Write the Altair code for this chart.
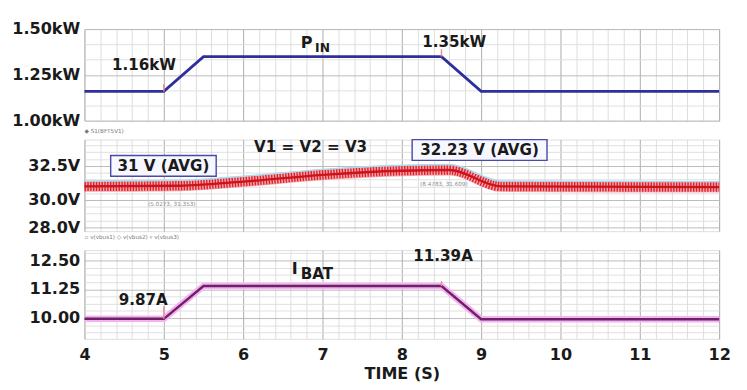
import altair as alt
import pandas as pd

# ---------------- data ----------------
t_knots = [4, 5, 5.5, 8.5, 9, 12]
pin_kw = [1.16, 1.16, 1.35, 1.35, 1.16, 1.16]
ibat_a = [9.97, 9.97, 11.39, 11.39, 9.95, 9.95]

t_v = [4, 5.2, 6, 7, 8, 8.6, 9.25, 12]
v_avg = [31.0, 31.05, 31.35, 31.85, 32.15, 32.2, 31.0, 30.95]
v_ripple = 0.4

# y ranges / grids
p_domain = [1.0, 1.5]
p_grid = [1.0, 1.0833, 1.1667, 1.25, 1.3333, 1.4167, 1.5]
v_domain = [27.72, 34.43]
v_grid = [28.0, 28.5, 29.0, 29.5, 30.0, 30.5, 31.0, 31.5, 32.0, 32.5, 33.0, 33.5, 34.0]
i_domain = [9.1, 12.95]
i_grid = [9.375, 9.6875, 10.0, 10.3125, 10.625, 10.9375, 11.25, 11.5625,
          11.875, 12.1875, 12.5, 12.8125]
x_grid = [round(4 + 0.2 * k, 1) for k in range(41)]

# annotations
p_text = ["1.16kW", "1.35kW"]
p_text_t = [4.75, 8.66]
p_text_y = [1.30, 1.43]
p_mark_t = [5.0, 8.5]
p_mark_y = [1.16, 1.35]
p_mark_y2 = [1.20, 1.39]

v_box_label = ["31 V (AVG)", "32.23 V (AVG)"]
v_box_t = [4.33, 8.13]
v_box_t2 = [5.66, 9.83]
v_box_y = [33.26, 34.43]
v_box_y2 = [31.74, 32.91]
v_small = ["(5.0273, 31.353)", "(8.4783, 31.609)"]
v_small_t = [5.1, 8.53]
v_small_y = [29.67, 31.2]

i_text = ["9.87A", "11.39A"]
i_text_t = [4.74, 8.52]
i_text_y = [10.78, 12.7]
i_mark_t = [5.0, 8.5]
i_mark_y = [9.97, 11.39]
i_mark_y2 = [10.5, 11.6]

FONT = "DejaVu Sans"
W = 672

p_df = pd.DataFrame({"t": t_knots, "v": pin_kw})
i_df = pd.DataFrame({"t": t_knots, "v": ibat_a})
v_df = pd.DataFrame({"t": t_v, "v": v_avg})
v_df["lo"] = v_df["v"] - v_ripple
v_df["hi"] = v_df["v"] + v_ripple

major_x = "abs(datum.value - round(datum.value)) < 0.01"
grid_x_color = {"condition": {"test": major_x, "value": "#a8a8a8"}, "value": "#dcdcdc"}


def xenc(show):
    if show:
        ax = alt.Axis(values=x_grid, tickCount=200, labelExpr=f"{major_x} ? format(datum.value, 'd') : ''",
                      labelOverlap=False, labelFlush=False, ticks=False, domain=False,
                      labelFontSize=17, labelFontWeight="bold", labelFont=FONT,
                      labelColor="#1a1a1a", labelPadding=9,
                      title="TIME (S)", titleFont=FONT, titleFontSize=17,
                      titleFontWeight="bold", titleColor="#1a1a1a", titlePadding=4,
                      grid=True, gridColor=grid_x_color, gridWidth=1)
    else:
        ax = alt.Axis(values=x_grid, tickCount=200, labels=False, ticks=False, domain=False, title=None,
                      grid=True, gridColor=grid_x_color, gridWidth=1)
    return alt.X("t:Q", scale=alt.Scale(domain=[4, 12], nice=False, zero=False), axis=ax)


def yaxis(vals, test, fmt, unit):
    return alt.Axis(values=vals, tickCount=200,
                    labelExpr=f"({test}) ? format(datum.value, '{fmt}') + '{unit}' : ''",
                    labelOverlap=False, ticks=False, domain=False, title=None,
                    labelFontSize=17, labelFontWeight="bold", labelFont=FONT,
                    labelColor="#1a1a1a", labelPadding=5, minExtent=80, maxExtent=80,
                    grid=True, gridWidth=1,
                    gridColor={"condition": {"test": test, "value": "#b8b8b8"}, "value": "#dedede"})


def yenc(field, domain, ax):
    return alt.Y(f"{field}:Q", scale=alt.Scale(domain=domain, nice=False, zero=False), axis=ax)


# ---------------- panel 1 : P_IN ----------------
p_ax = yaxis(p_grid, "abs(datum.value*4 - round(datum.value*4)) < 0.001", ".2f", "kW")
p_line = alt.Chart(p_df).mark_line(color="#2f2f9c", strokeWidth=3).encode(
    x=xenc(False), y=yenc("v", p_domain, p_ax))
p_marks = alt.Chart(pd.DataFrame({"t": p_mark_t, "y": p_mark_y, "y2": p_mark_y2})).mark_rule(
    color="#f08a8a", strokeWidth=1.5).encode(x="t:Q", y="y:Q", y2="y2:Q")
p_lbl = alt.Chart(pd.DataFrame({"t": p_text_t, "y": p_text_y, "s": p_text})).mark_text(
    font=FONT, fontSize=16, fontWeight="bold", color="#1a1a1a").encode(x="t:Q", y="y:Q", text="s:N")
p_sym = alt.Chart(pd.DataFrame({"t": [6.80], "y": [1.42], "s": ["P"]})).mark_text(
    font=FONT, fontSize=17, fontWeight="bold", color="#1a1a1a").encode(x="t:Q", y="y:Q", text="s:N")
p_sub = alt.Chart(pd.DataFrame({"t": [7.0], "y": [1.395], "s": ["IN"]})).mark_text(
    font=FONT, fontSize=13, fontWeight="bold", color="#1a1a1a").encode(x="t:Q", y="y:Q", text="s:N")
panel1 = alt.layer(p_line, p_marks, p_lbl, p_sym, p_sub).properties(width=W, height=97)

# ---------------- panel 2 : V1 = V2 = V3 ----------------
v_ax = yaxis(v_grid, "indexof([28, 30, 32.5], datum.value) >= 0", ".1f", "V")
v_band = alt.Chart(v_df).mark_area(color="#f3a0a4", interpolate="monotone", opacity=0.9).encode(
    x=xenc(False), y=yenc("lo", v_domain, v_ax), y2="hi:Q")
v_top = alt.Chart(v_df).mark_line(color="#a8dcf0", strokeWidth=1.5, interpolate="monotone").encode(
    x="t:Q", y="hi:Q")
v_rip = alt.Chart(v_df).mark_line(color="#e0202c", strokeWidth=10, interpolate="monotone",
                                  strokeDash=[1.5, 1.5]).encode(x="t:Q", y="v:Q")
v_mid = alt.Chart(v_df).mark_line(color="#c8141e", strokeWidth=2.5, interpolate="monotone").encode(
    x="t:Q", y="v:Q")
v_box = alt.Chart(pd.DataFrame({"t": v_box_t, "t2": v_box_t2, "y": v_box_y, "y2": v_box_y2})).mark_rect(
    fill="#f7f7ff", stroke="#4a4aa8", strokeWidth=1.5).encode(x="t:Q", x2="t2:Q", y="y:Q", y2="y2:Q")
v_box_txt = alt.Chart(pd.DataFrame({"t": [(a + b) / 2 for a, b in zip(v_box_t, v_box_t2)],
                                    "y": [(a + b) / 2 for a, b in zip(v_box_y, v_box_y2)],
                                    "s": v_box_label})).mark_text(
    font=FONT, fontSize=16, fontWeight="bold", color="#1a1a1a").encode(x="t:Q", y="y:Q", text="s:N")
v_eq = alt.Chart(pd.DataFrame({"t": [6.85], "y": [33.85], "s": ["V1 = V2 = V3"]})).mark_text(
    font=FONT, fontSize=16, fontWeight="bold", color="#1a1a1a").encode(x="t:Q", y="y:Q", text="s:N")
v_sm = alt.Chart(pd.DataFrame({"t": v_small_t, "y": v_small_y, "s": v_small})).mark_text(
    font=FONT, fontSize=6, color="#8a8a8a").encode(x="t:Q", y="y:Q", text="s:N")
panel2 = alt.layer(v_band, v_rip, v_top, v_mid, v_box, v_box_txt, v_eq, v_sm).properties(
    width=W, height=97,
    title=alt.TitleParams("◆  S1(BFT5V1)", fontSize=6, color="#7a7a7a", anchor="start",
                          frame="group", fontWeight="normal", font=FONT, offset=3))

# ---------------- panel 3 : I_BAT ----------------
i_ax = yaxis(i_grid, "abs(datum.value/1.25 - round(datum.value/1.25)) < 0.001", ".2f", "")
i_halo = alt.Chart(i_df).mark_line(color="#f5b2f2", strokeWidth=7).encode(
    x=xenc(True), y=yenc("v", i_domain, i_ax))
i_line = alt.Chart(i_df).mark_line(color="#6e2266", strokeWidth=2.5).encode(x="t:Q", y="v:Q")
i_marks = alt.Chart(pd.DataFrame({"t": i_mark_t, "y": i_mark_y, "y2": i_mark_y2})).mark_rule(
    color="#f08a8a", strokeWidth=1.5).encode(x="t:Q", y="y:Q", y2="y2:Q")
i_lbl = alt.Chart(pd.DataFrame({"t": i_text_t, "y": i_text_y, "s": i_text})).mark_text(
    font=FONT, fontSize=16, fontWeight="bold", color="#1a1a1a").encode(x="t:Q", y="y:Q", text="s:N")
i_sym = alt.Chart(pd.DataFrame({"t": [6.65], "y": [12.1], "s": ["I"]})).mark_text(
    font=FONT, fontSize=17, fontWeight="bold", color="#1a1a1a").encode(x="t:Q", y="y:Q", text="s:N")
i_sub = alt.Chart(pd.DataFrame({"t": [6.93], "y": [11.9], "s": ["BAT"]})).mark_text(
    font=FONT, fontSize=16, fontWeight="bold", color="#1a1a1a").encode(x="t:Q", y="y:Q", text="s:N")
panel3 = alt.layer(i_halo, i_line, i_marks, i_lbl, i_sym, i_sub).properties(
    width=W, height=94,
    title=alt.TitleParams("▫ v(vbus1)    ◇ v(vbus2)    ▿ v(vbus3)", fontSize=6, color="#7a7a7a",
                          anchor="start", frame="group", fontWeight="normal", font=FONT, offset=5))

chart = alt.vconcat(panel1, panel2, panel3, spacing=20, bounds="flush").properties(
    padding={"left": 0, "top": 1, "right": 0, "bottom": 0}
).configure_view(stroke="#9a9a9a", strokeWidth=1).configure(background="white")

chart.save("out.html", embed_options={"renderer": "svg", "actions": False})
